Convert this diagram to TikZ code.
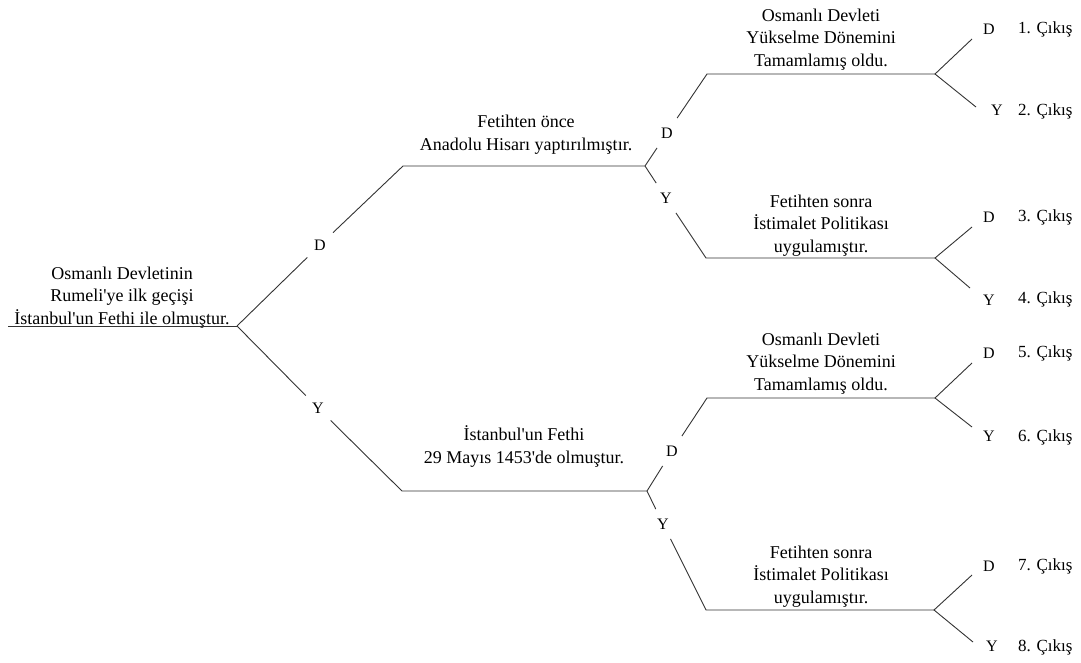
\documentclass[tikz,border=0pt]{standalone}
\usepackage{fontspec}
\setmainfont{Liberation Serif}
\newcommand{\apos}{\textquotesingle}
\begin{document}
\begin{tikzpicture}[x=1pt,y=-1pt,
  branch/.style={draw=black!80, line width=0.9pt},
  % multi-line statements: the base anchor sits on the last line
  stmt/.style={align=center, inner sep=0pt, anchor=base,
    font=\fontsize{18}{22.5}\selectfont},
  ans/.style={inner sep=0pt, anchor=base, font=\fontsize{16}{18}\selectfont},
  gapA/.style={ans, anchor=center, inner sep=7pt},
  gapB/.style={ans, anchor=center, inner xsep=6pt, inner ysep=9.5pt},
  exit/.style={inner sep=0pt, anchor=base west, font=\fontsize{17}{19}\selectfont}]
\useasboundingbox (0,0) rectangle (1081,662);

% ---------- line end points ----------
\coordinate (r0) at (8,326);   \coordinate (r1) at (237,326);
\coordinate (a0) at (403,166); \coordinate (a1) at (645,166);
\coordinate (b0) at (402,491); \coordinate (b1) at (647,491);
\coordinate (c0) at (707,74);  \coordinate (c1) at (935,74);
\coordinate (d0) at (706,258); \coordinate (d1) at (935,258);
\coordinate (e0) at (707,398); \coordinate (e1) at (935,398);
\coordinate (f0) at (706,610); \coordinate (f1) at (934,610);
\coordinate (t1) at (972,39);  \coordinate (t2) at (976,107);
\coordinate (t3) at (972,227); \coordinate (t4) at (970,288);
\coordinate (t5) at (972,363); \coordinate (t6) at (972,427);
\coordinate (t7) at (972,575); \coordinate (t8) at (973,642);

% ---------- statements ----------
\node[stmt] (q0) at (122,324) {Osmanlı Devletinin\\Rumeli\apos ye ilk geçişi\\İstanbul\apos un Fethi ile olmuştur.};
\node[stmt] (q1) at (526,150) {Fetihten önce\\Anadolu Hisarı yaptırılmıştır.};
\node[stmt] (q2) at (524,463) {İstanbul\apos un Fethi\\29 Mayıs 1453\apos de olmuştur.};
\node[stmt] (q3) at (821,66)  {Osmanlı Devleti\\Yükselme Dönemini\\Tamamlamış oldu.};
\node[stmt] (q4) at (821,252) {Fetihten sonra\\İstimalet Politikası\\uygulamıştır.};
\node[stmt] (q5) at (821,390) {Osmanlı Devleti\\Yükselme Dönemini\\Tamamlamış oldu.};
\node[stmt] (q6) at (821,603) {Fetihten sonra\\İstimalet Politikası\\uygulamıştır.};

% ---------- answers sitting in the branches ----------
\node[gapA] (g1) at (320,245) {D};
\node[gapA] (g2) at (318,408) {Y};
\node[gapB] (g3) at (667,133) {D};
\node[gapB] (g4) at (666,198) {Y};
\node[gapB] (g5) at (672,451) {D};
\node[gapB] (g6) at (663,524) {Y};

% ---------- answers at the leaves and exits ----------
\node[ans] (l1) at (989,34)  {D};  \node[exit] (o1) at (1018,33)  {1. Çıkış};
\node[ans] (l2) at (997,115) {Y};  \node[exit] (o2) at (1018,115) {2. Çıkış};
\node[ans] (l3) at (989,222) {D};  \node[exit] (o3) at (1018,221) {3. Çıkış};
\node[ans] (l4) at (989,305) {Y};  \node[exit] (o4) at (1018,303) {4. Çıkış};
\node[ans] (l5) at (989,358) {D};  \node[exit] (o5) at (1018,357) {5. Çıkış};
\node[ans] (l6) at (989,441) {Y};  \node[exit] (o6) at (1018,441) {6. Çıkış};
\node[ans] (l7) at (989,571) {D};  \node[exit] (o7) at (1018,570) {7. Çıkış};
\node[ans] (l8) at (992,651) {Y};  \node[exit] (o8) at (1018,651) {8. Çıkış};

% ---------- branches ----------
\draw[branch] (r0) -- (r1);
\draw[branch] (r1) -- (g1);  \draw[branch] (g1) -- (a0) -- (a1);
\draw[branch] (r1) -- (g2);  \draw[branch] (g2) -- (b0) -- (b1);

\draw[branch] (a1) -- (g3);  \draw[branch] (g3) -- (c0) -- (c1);
\draw[branch] (a1) -- (g4);  \draw[branch] (g4) -- (d0) -- (d1);
\draw[branch] (b1) -- (g5);  \draw[branch] (g5) -- (e0) -- (e1);
\draw[branch] (b1) -- (g6);  \draw[branch] (g6) -- (f0) -- (f1);

\draw[branch] (t1) -- (c1) -- (t2);
\draw[branch] (t3) -- (d1) -- (t4);
\draw[branch] (t5) -- (e1) -- (t6);
\draw[branch] (t7) -- (f1) -- (t8);
\end{tikzpicture}
\end{document}
